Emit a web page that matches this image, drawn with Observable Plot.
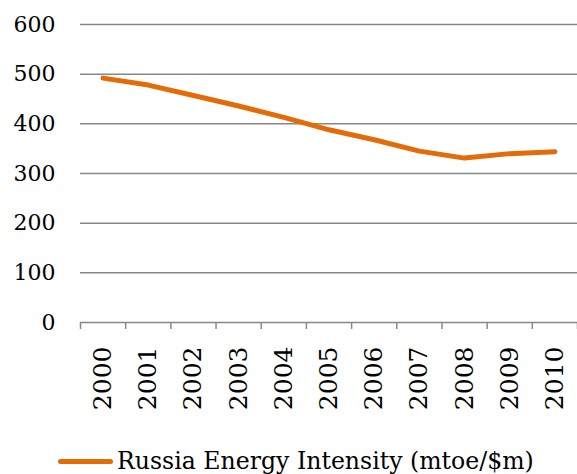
<!DOCTYPE html>
<html>
<head>
<meta charset="utf-8">
<script src="https://cdn.jsdelivr.net/npm/d3@7"></script>
<script src="https://cdn.jsdelivr.net/npm/@observablehq/plot@0.6"></script>
<style>
  html, body { margin: 0; padding: 0; background: #fff; }
  #wrap { position: relative; width: 577px; height: 474px; overflow: hidden; }
  #legend { position: absolute; left: 58px; top: 446px; height: 30px; display: flex; align-items: center;
            font-family: "DejaVu Serif", serif; font-size: 23.6px; color: #000; white-space: nowrap; }
  #legend .sw { display: inline-block; width: 55px; height: 5px; border-radius: 3px; background: #E36C09; margin-right: 4px; }
</style>
</head>
<body>
<div id="wrap">
  <div id="chart"></div>
  <div id="legend"><span class="sw"></span><span id="legend-text"></span></div>
</div>
<script>
const years = [2000, 2001, 2002, 2003, 2004, 2005, 2006, 2007, 2008, 2009, 2010];
const intensity = [492, 478, 457, 436, 413, 388, 368, 345, 331, 340, 344];
const yTicks = [0, 100, 200, 300, 400, 500, 600];
const seriesName = "Russia Energy Intensity (mtoe/$m)";

const data = years.map((year, i) => ({year, value: intensity[i]}));
const bounds = [years[0] - 0.5, ...years.map(y => y + 0.5)];

const chart = Plot.plot({
  width: 577,
  height: 420,
  marginTop: 24,
  marginBottom: 98,
  marginLeft: 80,
  marginRight: 0,
  style: { fontFamily: "'DejaVu Serif', serif", fontSize: "22px", color: "#000", background: "#fff", overflow: "visible" },
  x: {
    type: "linear",
    domain: [years[0] - 0.5, years[years.length - 1] + 0.5],
    ticks: years,
    tickFormat: d => String(d),
    tickSize: 0,
    tickRotate: -90,
    tickPadding: 24,
    label: null
  },
  y: {
    domain: [0, 600],
    ticks: yTicks,
    tickFormat: d => String(d),
    tickSize: 0,
    tickPadding: 25,
    label: null
  },
  marks: [
    Plot.ruleY(yTicks, { y: d => d, stroke: "#878787", strokeWidth: 1.5 }),
    Plot.ruleX(bounds, { x: d => d, y1: 0, y2: -14, stroke: "#878787", strokeWidth: 1.5 }),
    Plot.line(data, { x: "year", y: "value", stroke: "#E36C09", strokeWidth: 5, strokeLinecap: "round", strokeLinejoin: "round" })
  ]
});
document.getElementById("chart").appendChild(chart);
document.getElementById("legend-text").textContent = seriesName;
// larger rotated year labels
chart.querySelectorAll("g[aria-label='x-axis tick label'] text, g[aria-label='x-axis'] text").forEach(t => t.style.fontSize = "25px");
</script>
</body>
</html>
